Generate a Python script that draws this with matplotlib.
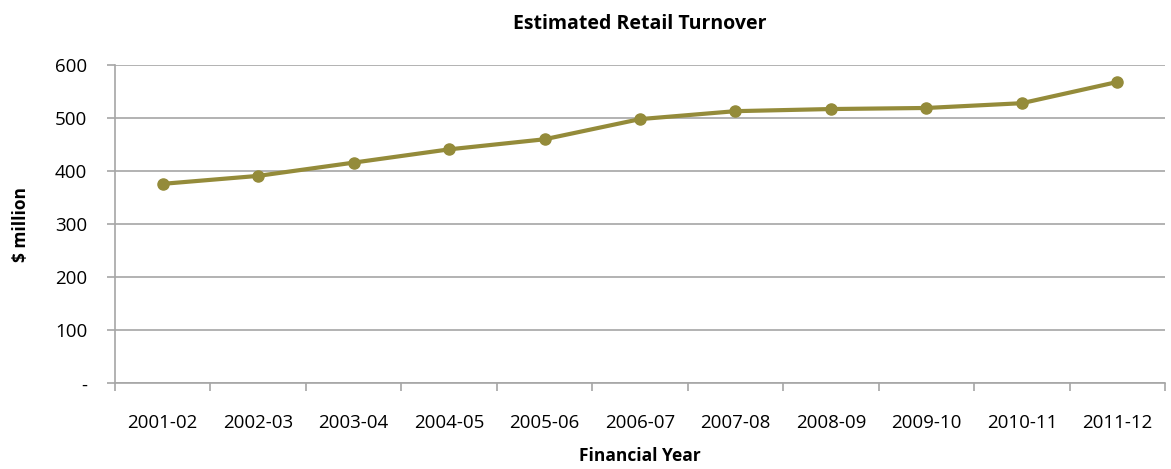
import matplotlib
matplotlib.use("Agg")
import matplotlib.pyplot as plt
import numpy as np

years = ["2001-02", "2002-03", "2003-04", "2004-05", "2005-06", "2006-07",
         "2007-08", "2008-09", "2009-10", "2010-11", "2011-12"]
turnover = [376, 391, 416, 441, 460, 498, 513, 517, 519, 528, 568]
yticks = [0, 100, 200, 300, 400, 500, 600]
ytick_labels = ["-", "100", "200", "300", "400", "500", "600"]

plt.rcParams['font.family'] = ['Open Sans', 'DejaVu Sans']

fig = plt.figure(figsize=(11.71, 4.69), dpi=100)
ax = fig.add_axes([0.0982, 0.1827, 0.8967, 0.6787])

x = np.arange(len(years))
ax.plot(x, turnover, color="#948B3A", lw=3, marker="o", ms=8, zorder=3)

ax.set_xlim(-0.5, len(years) - 0.5)
ax.set_ylim(0, 600)
ax.set_yticks(yticks)
ax.set_yticklabels(ytick_labels, fontsize=13.5)
ax.yaxis.grid(True, color="#A6A6A6", lw=1.2)
ax.set_axisbelow(True)

ax.set_xticks(x)
ax.set_xticklabels(years, fontsize=13.5)
ax.set_xticks(np.arange(-0.5, len(years)), minor=True)
ax.tick_params(axis="x", which="major", length=0, pad=22)
ax.tick_params(axis="x", which="minor", length=6, color="#A6A6A6", width=1.2)
ax.tick_params(axis="y", length=6, color="#A6A6A6", width=1.2, pad=14)

for s in ["top", "right"]:
    ax.spines[s].set_visible(False)
for s in ["left", "bottom"]:
    ax.spines[s].set_color("#A6A6A6")
    ax.spines[s].set_linewidth(1.2)

ax.set_title("Estimated Retail Turnover", fontsize=14, fontweight="bold", pad=26)
ax.set_xlabel("Financial Year", fontsize=12.5, fontweight="bold", labelpad=11)
ax.set_ylabel("$ million", fontsize=12.5, fontweight="bold", labelpad=18)

fig.savefig("out.png", dpi=100)
